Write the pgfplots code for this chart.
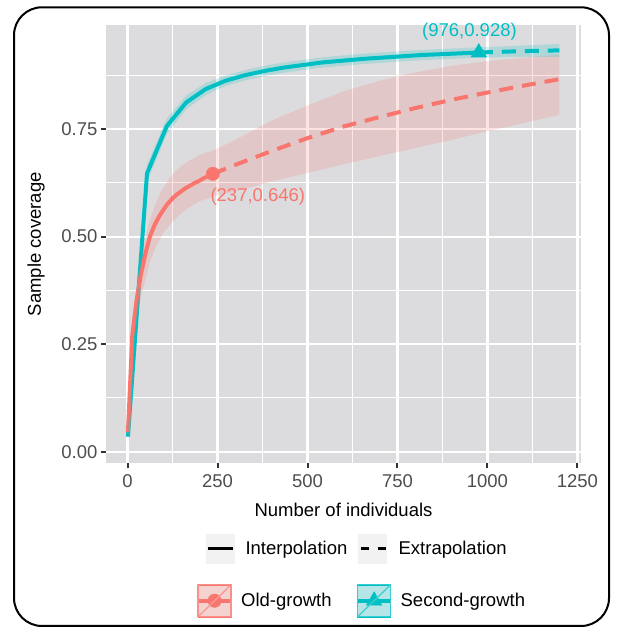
\documentclass[border=0pt]{standalone}
\usepackage{fontspec}
\setmainfont{Liberation Sans}
\usepackage{pgfplots}
\pgfplotsset{compat=1.18}
\definecolor{ogred}{HTML}{F8766D}
\definecolor{sgteal}{HTML}{00BFC4}
\definecolor{panelbg}{HTML}{DCDCDE}
\definecolor{ticktext}{HTML}{4D4D4D}
\definecolor{tickcol}{HTML}{333333}
\definecolor{keybg}{HTML}{F2F2F2}
\newcommand{\fs}{\fontsize{18.5}{22}\selectfont}
\begin{document}
\begin{tikzpicture}[x=1pt,y=1pt]
\path[use as bounding box] (0,0) rectangle (617,628);
\draw[line width=2pt, rounded corners=28pt] (14,2) rectangle (609,620.7);
\begin{axis}[
  at={(106pt,164.7pt)}, anchor=south west, scale only axis,
  width=475pt, height=438.3pt,
  xmin=-60, xmax=1260, ymin=-0.027, ymax=0.992,
  axis background/.style={fill=panelbg},
  axis line style={draw=none},
  xtick={0,250,500,750,1000,1250}, xticklabels={0,250,500,750,1000,1250},
  ytick={0,0.25,0.5,0.75}, yticklabels={0.00,0.25,0.50,0.75},
  minor xtick={125,375,625,875,1125}, minor ytick={0.125,0.375,0.625,0.875},
  grid=both, major grid style={white, line width=2.2pt}, minor grid style={white, line width=1.1pt},
  tick align=outside, major tick length=5pt, minor tick length=0pt,
  tick style={tickcol, line width=2pt}, tick pos=left,
  ticklabel style={font=\fs, text=ticktext},
  xticklabel style={yshift=-2.5pt},
  /pgf/number format/assume math mode=true,
  xlabel={Number of individuals}, ylabel={Sample coverage},
  label style={font=\fs, text=black},
  xlabel style={at={(axis description cs:0.5,-0.1066)}, anchor=center},
  ylabel style={at={(axis description cs:-0.1474,0.5)}, anchor=center},
  clip mode=individual,
]
% lines
\addplot[sgteal, line width=4pt, line join=round] coordinates {
(1,0.035) (54,0.647) (109,0.757) (163,0.812) (217,0.843) (271,0.862) (325,0.875)
(380,0.885) (434,0.893) (488,0.899) (542,0.905) (597,0.909) (651,0.913) (705,0.916)
(759,0.919) (813,0.922) (868,0.924) (922,0.926) (976,0.928)};
\addplot[sgteal, line width=4pt, dash pattern=on 14pt off 9pt] coordinates {
(976,0.928) (1032,0.9295) (1088,0.931) (1144,0.932) (1200,0.933)};
\addplot[ogred, line width=4pt, line join=round] coordinates {
(1,0.045) (13,0.270) (25,0.352) (37,0.412) (50,0.462) (62,0.500) (75,0.527)
(87,0.546) (100,0.563) (112,0.577) (125,0.589) (137,0.598) (150,0.606) (162,0.613)
(175,0.619) (187,0.625) (200,0.630) (212,0.636) (225,0.641) (237,0.646)};
\addplot[ogred, line width=4pt, dash pattern=on 14pt off 9pt] coordinates {
(237,0.646) (300,0.667) (400,0.699) (500,0.729) (600,0.756) (700,0.778)
(800,0.799) (900,0.818) (1000,0.835) (1100,0.851) (1200,0.866)};
\addplot[only marks, mark=*, ogred, mark size=6.7pt] coordinates {(237,0.646)};
\addplot[only marks, mark=triangle*, sgteal, mark size=9pt] coordinates {(976,0.928)};
% ribbons
\addplot[draw=none, fill=ogred, fill opacity=0.2] coordinates {
(1,0.05) (13,0.29) (25,0.39) (37,0.45) (50,0.50) (62,0.54) (75,0.57) (87,0.595)
(100,0.615) (125,0.645) (150,0.665) (175,0.678) (200,0.69) (237,0.70)
(300,0.725) (400,0.77) (500,0.805) (600,0.838) (700,0.862) (800,0.882) (900,0.897)
(1000,0.908) (1100,0.916) (1200,0.923)
(1200,0.783) (1100,0.764) (1000,0.745) (900,0.725) (800,0.706) (700,0.687)
(600,0.668) (500,0.648) (400,0.628) (300,0.605)
(237,0.593) (200,0.582) (175,0.57) (150,0.555) (125,0.535) (100,0.51) (87,0.49)
(75,0.47) (62,0.44) (50,0.40) (37,0.36) (25,0.31) (13,0.24) (1,0.02)} -- cycle;
\addplot[draw=none, fill=sgteal, fill opacity=0.2] coordinates {
(1,0.051) (54,0.667) (109,0.775) (163,0.828) (217,0.857) (271,0.874) (325,0.887)
(380,0.897) (434,0.905) (488,0.911) (542,0.917) (597,0.921) (651,0.925) (705,0.928)
(759,0.931) (813,0.934) (868,0.936) (922,0.938) (976,0.940) (1088,0.944) (1200,0.948)
(1200,0.918) (1088,0.918) (976,0.916) (922,0.914) (868,0.912) (813,0.910) (759,0.907)
(705,0.904) (651,0.901) (597,0.897) (542,0.893) (488,0.887) (434,0.881) (380,0.873)
(325,0.863) (271,0.850) (217,0.829) (163,0.796) (109,0.739) (54,0.627) (1,0.019)} -- cycle;
\node[text=ogred, font=\fs] at (axis cs:362,0.592) {(237,0.646)};
\node[text=sgteal, font=\fs] at (axis cs:950,0.977) {(976,0.928)};
\end{axis}
% legend row 1
\begin{axis}[
  at={(106pt,164.7pt)}, anchor=south west, scale only axis,
  width=475pt, height=438.3pt, hide axis,
  xmin=0, xmax=1, ymin=0, ymax=1,
  legend style={at={(axis description cs:0.527,-0.194)}, anchor=center,
    draw=none, fill=none, legend columns=2, font=\fs,
    /tikz/every odd column/.append style={column sep=11pt},
    /tikz/every even column/.append style={column sep=11pt},
    nodes={inner sep=0pt}},
]
\addlegendimage{legend image code/.code={
  \fill[keybg] (0pt,-14.5pt) rectangle (28pt,14.5pt);
  \draw[black, line width=3.5pt] (1.5pt,0pt) -- (26.5pt,0pt);}}
\addlegendentry{Interpolation}
\addlegendimage{legend image code/.code={
  \fill[keybg] (0pt,-14.5pt) rectangle (28pt,14.5pt);
  \draw[black, line width=3.5pt, dash pattern=on 8.4pt off 8.3pt] (2.3pt,0pt) -- (27.3pt,0pt);}}
\addlegendentry{Extrapolation}
\end{axis}
% legend row 2
\begin{axis}[
  at={(106pt,164.7pt)}, anchor=south west, scale only axis,
  width=475pt, height=438.3pt, hide axis,
  xmin=0, xmax=1, ymin=0, ymax=1,
  legend style={at={(axis description cs:0.536,-0.3135)}, anchor=center,
    draw=none, fill=none, legend columns=2, font=\fs,
    /tikz/every odd column/.append style={column sep=8pt},
    /tikz/every even column/.append style={column sep=24pt},
    nodes={inner sep=0pt}},
]
\addlegendimage{legend image code/.code={
  \fill[keybg] (0pt,-16pt) rectangle (33pt,16pt);
  \fill[ogred, fill opacity=0.25] (0pt,-16pt) rectangle (33pt,16pt);
  \draw[ogred, line width=4pt] (0pt,0pt) -- (33pt,0pt);
  \fill[ogred] (16.5pt,0pt) circle (6.7pt);
  \draw[ogred!75, line width=1.3pt] (0pt,-16pt) -- (33pt,16pt);
  \draw[ogred!80, line width=1.5pt] (0pt,-16pt) rectangle (33pt,16pt);}}
\addlegendentry{Old-growth}
\addlegendimage{legend image code/.code={
  \fill[keybg] (0pt,-16pt) rectangle (33pt,16pt);
  \fill[sgteal, fill opacity=0.25] (0pt,-16pt) rectangle (33pt,16pt);
  \draw[sgteal, line width=4pt] (0pt,0pt) -- (33pt,0pt);
  \fill[sgteal] (16.5pt,9pt) -- (24.3pt,-4.5pt) -- (8.7pt,-4.5pt) -- cycle;
  \draw[sgteal!75, line width=1.3pt] (0pt,-16pt) -- (33pt,16pt);
  \draw[sgteal!80, line width=1.5pt] (0pt,-16pt) rectangle (33pt,16pt);}}
\addlegendentry{Second-growth}
\end{axis}
\end{tikzpicture}
\end{document}
